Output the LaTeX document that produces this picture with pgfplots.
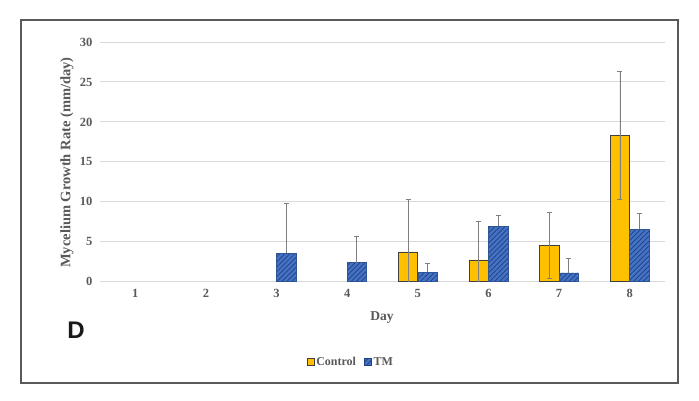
\documentclass[border=0pt]{standalone}
\usepackage{fontspec}
\setmainfont{Liberation Serif}
\newfontfamily\panelfont{Liberation Sans}
\usepackage{pgfplots}
\pgfplotsset{compat=1.18}
\usetikzlibrary{patterns.meta}

\definecolor{ctrl}{HTML}{FFC000}
\definecolor{ctrledge}{HTML}{3F3F3F}
\definecolor{tm}{HTML}{4472C4}
\definecolor{tmedge}{HTML}{2F5597}
\definecolor{tmline}{HTML}{203F80}
\definecolor{txt}{HTML}{595959}
\definecolor{gridc}{HTML}{D9D9D9}
\definecolor{errc}{HTML}{7F7F7F}
\definecolor{framec}{HTML}{595959}

% day, mean, sd
\pgfplotstableread{
x  y     e
5  3.72  6.6
6  2.72  4.85
7  4.56  4.17
8  18.3  8.0
}\controldata
\pgfplotstableread{
x  y     e
3  3.56  6.2
4  2.40  3.3
5  1.20  1.1
6  6.94  1.42
7  1.09  1.8
8  6.56  2.0
}\tmdata

\begin{document}
\begin{tikzpicture}
\path (0pt,0pt) rectangle (699pt,-400pt);
\draw[framec, line width=2pt] (21pt,-20pt) rectangle (678pt,-383pt);
\begin{axis}[
  at={(100pt,-281.7pt)}, anchor=south west,
  scale only axis, width=565pt, height=239.7pt,
  xmin=0.5, xmax=8.5, ymin=0, ymax=30,
  xtick={1,...,8}, ytick={0,5,...,30},
  ymajorgrids, grid style={gridc, line width=1pt},
  axis line style={draw=none}, major tick length=0pt,
  ybar=0pt, bar width=0.275,
  /pgf/number format/assume math mode=true,
  tick label style={font=\fontsize{12.5}{14}\selectfont\bfseries, text=txt},
  yticklabel style={xshift=-4pt},
  xticklabel style={yshift=-4pt},
  xlabel={Day}, ylabel={Mycelium Growth Rate (mm/day)},
  label style={font=\fontsize{13.5}{16}\selectfont\bfseries, text=txt},
  xlabel style={at={(axis description cs:0.499,-0.151)}, anchor=center},
  ylabel style={at={(axis description cs:-0.0584,0.497)}, anchor=center,
    font=\fontsize{14.5}{16}\selectfont\bfseries},
  legend columns=2,
  legend style={at={(axis description cs:0.444,-0.335)}, anchor=center, draw=none,
    font=\fontsize{12}{14}\selectfont\bfseries, text=txt,
    /tikz/every even column/.append style={column sep=6pt},
    inner sep=1pt},
  clip=true,
]
\addplot[fill=ctrl, draw=ctrledge, line width=0.8pt,
  legend image code/.code={\draw[fill=ctrl, draw=ctrledge, line width=0.6pt] (0pt,-3.5pt) rectangle (7pt,3.5pt);},
  error bars/.cd, y dir=both, y explicit,
  error bar style={errc, line width=0.8pt},
  error mark options={rotate=90, errc, mark size=2.5pt, line width=0.8pt}]
  table[x=x, y=y, y error=e] {\controldata};
\addlegendentry{Control}
\addplot[fill=tm, draw=tmedge, line width=0.6pt,
  postaction={pattern={Lines[angle=45, distance=3.5pt, line width=0.7pt]}, pattern color=tmline},
  legend image code/.code={\draw[fill=tm, draw=tmline, line width=0.6pt] (0pt,-3.5pt) rectangle (7pt,3.5pt);},
  error bars/.cd, y dir=plus, y explicit,
  error bar style={errc, line width=0.8pt},
  error mark options={rotate=90, errc, mark size=2.5pt, line width=0.8pt}]
  table[x=x, y=y, y error=e] {\tmdata};
\addlegendentry{TM}
\end{axis}
\node[font=\panelfont\fontsize{24}{26}\selectfont\bfseries, text=black!90] at (76pt,-330pt) {D};
\end{tikzpicture}
\end{document}
